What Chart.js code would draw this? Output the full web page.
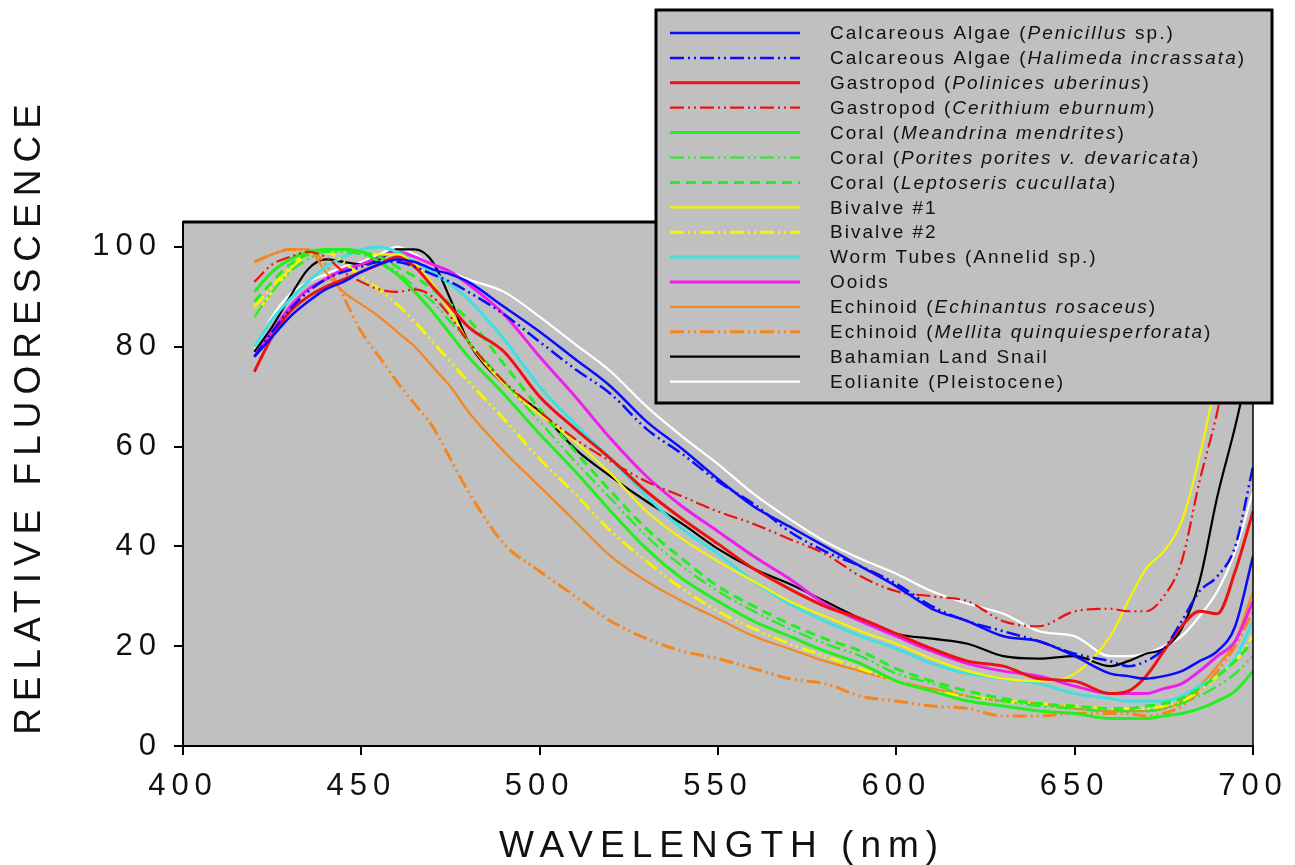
<!DOCTYPE html>
<html>
<head>
<meta charset="utf-8">
<script src="https://cdn.jsdelivr.net/npm/chart.js@4.4.0/dist/chart.umd.min.js"></script>
<style>
  html, body { margin: 0; padding: 0; background: #fff; }
  #wrap { width: 1295px; height: 865px; }
</style>
</head>
<body>
<div id="wrap"><canvas id="myChart" width="1295" height="865"></canvas></div>
<script>
// wavelength (nm) sampled along the spectra
const wavelengths = [420, 425, 430, 435, 440, 445, 450, 455, 460, 465, 470, 475, 480, 490, 500, 510, 520, 530, 540, 550, 560, 570, 580, 590, 600, 610, 620, 630, 640, 650, 660, 665, 670, 675, 680, 685, 690, 695, 700];

// legend names, *...* = italic
const seriesNames = [
  'Calcareous Algae (*Penicillus* sp.)',
  'Calcareous Algae (*Halimeda incrassata*)',
  'Gastropod (*Polinices uberinus*)',
  'Gastropod (*Cerithium eburnum*)',
  'Coral (*Meandrina mendrites*)',
  'Coral (*Porites porites v. devaricata*)',
  'Coral (*Leptoseris cucullata*)',
  'Bivalve #1',
  'Bivalve #2',
  'Worm Tubes (Annelid sp.)',
  'Ooids',
  'Echinoid (*Echinantus rosaceus*)',
  'Echinoid (*Mellita quinquiesperforata*)',
  'Bahamian Land Snail',
  'Eolianite (Pleistocene)'
];

// relative fluorescence values, one array per sample
const penicillus = [78, 82, 86, 89, 91.5, 93, 95, 96.5, 97.5, 97, 95.5, 94.5, 93, 88, 83, 77.5, 72, 65, 59.5, 53.5, 48, 44, 40, 36, 32, 27.5, 25, 22, 21, 18, 14.5, 14, 13.5, 14, 15, 17, 19, 24, 38];
const halimeda = [78, 83, 87.5, 91, 93.5, 95, 96, 97, 97, 96, 94.5, 93, 91, 86.5, 81, 75.5, 70.5, 63.5, 58.5, 53, 48.5, 43, 39, 36, 32.5, 28, 25, 23, 21, 18.5, 17, 16, 17, 19.5, 25, 31, 34, 40, 56];
const polinices = [75, 82, 87, 90, 92, 93.5, 95, 96.5, 98, 96, 92, 88, 84, 79, 70, 63.5, 57.5, 51, 45.5, 40.5, 35.5, 31.5, 28, 25.5, 22.5, 19.5, 17, 16, 13.5, 13, 10.5, 11, 14, 19, 24, 27, 26.5, 35, 47];
const cerithium = [93, 96.5, 98, 99, 98, 95, 93, 91.5, 91, 91.5, 90, 86, 81, 73, 67, 61.5, 57, 53, 50, 47, 44.5, 41.5, 38.5, 34, 31, 30, 29, 25, 24, 27, 27.5, 27, 27, 30, 37, 53, 67, 85, 100];
const meandrina = [91, 95, 97.5, 99, 99.5, 99.5, 99, 97, 94.5, 91, 87, 82.5, 78, 70.5, 62.5, 55, 47, 39.5, 33.5, 29, 25, 22, 19, 16.5, 13, 11, 9, 8, 7, 6.5, 5.5, 5.5, 5.5, 6, 6.5, 7.5, 9, 11, 15];
const porites = [86, 91, 95, 97.5, 99, 99, 98.5, 97, 95, 92, 89, 85, 81, 73, 65, 57, 49.5, 42, 36, 31, 27, 23.5, 20.5, 18, 14.5, 12.5, 10, 9, 8, 7.5, 7, 7, 7, 7.5, 8.5, 10, 12, 14.5, 18];
const leptoseris = [89, 93, 96.5, 98.5, 99.5, 99.5, 99, 98, 96, 94, 91.5, 88.5, 85.5, 76.5, 67.5, 59, 51, 43.5, 37.5, 32, 28, 24.5, 21.5, 19, 15.5, 13, 11, 9.5, 8.5, 8, 7.5, 7.5, 8, 8.5, 9.5, 11.5, 14, 17, 21];
const bivalve1 = [86, 91, 95.5, 98.5, 99.5, 99.5, 99, 98.5, 98.5, 96.5, 92.5, 87, 81, 72.5, 66.5, 61, 54.5, 47, 41.5, 37, 33, 29, 26, 23, 20.5, 17.5, 15, 13.5, 13, 14.5, 22, 29, 35.5, 39, 45, 58, 75, 95, 115];
const bivalve2 = [88, 92, 96, 98.5, 99, 97, 94, 91.5, 88.5, 85, 81, 77, 73, 65.5, 57.5, 50.5, 43, 37, 31.5, 27, 23.5, 20.5, 18, 15.5, 13, 11, 10, 9, 8.5, 8, 7.5, 7.5, 7.5, 8, 9, 11, 14, 17, 22];
const wormTubes = [80, 85.5, 89.5, 93, 96, 98, 99.5, 100, 99, 97, 95, 92.5, 89.5, 81.5, 72, 64.5, 57.5, 50, 43.5, 38.5, 33, 28.5, 25, 22, 19.5, 16.5, 14.5, 13.5, 12.5, 10.5, 9.5, 9, 9, 9, 10, 12, 14, 17.5, 25];
const ooids = [78, 83, 88, 91.5, 93.5, 95.5, 96.5, 98, 99, 98, 96.5, 95, 92.5, 86.5, 78, 70, 61.5, 54, 48, 43, 38, 33.5, 28.5, 25, 22, 19, 16.5, 15, 14, 12, 10.5, 10.5, 10.5, 11.5, 12.5, 15, 18, 21, 29];
const echinantus = [97, 98.5, 99.5, 99.5, 95, 91, 88.5, 86, 83, 80, 76, 72, 67, 59, 52, 45, 38, 33, 29, 25.5, 22, 19.5, 17, 15, 13, 11.5, 10, 9, 8.5, 7.5, 7, 7, 7, 7.5, 9, 12, 16, 21, 31];
const mellita = [97, 98.5, 99.5, 99.5, 96.5, 90, 83, 78, 73, 68.5, 64, 57.5, 51, 40.5, 35, 30, 25, 21.5, 19, 17.5, 15.5, 13.5, 12.5, 10, 9, 8, 7.5, 6, 6, 6.5, 6.5, 6.5, 6, 6.5, 8, 11, 15, 20, 27];
const landSnail = [79, 84, 90, 95.5, 97.5, 97, 96.5, 97.5, 99.5, 99.5, 97, 89.5, 81, 72.5, 67, 59.5, 54, 49, 44.5, 39.5, 35.5, 32.5, 29, 25.5, 22.5, 21.5, 20.5, 18, 17.5, 18, 16, 17, 18.5, 19.5, 23.5, 33, 50, 64, 80];
const eolianite = [79.5, 86, 90.5, 93, 94.5, 96, 97, 98.5, 100, 98.5, 96.5, 95, 93.5, 91, 86, 80.5, 75, 68, 62, 56.5, 50.5, 45.5, 41, 37.5, 34.5, 31, 28.5, 26.5, 23, 22, 18, 18, 18.5, 20, 22, 26, 31, 39, 51];

const seriesValues = [penicillus, halimeda, polinices, cerithium, meandrina, porites, leptoseris,
  bivalve1, bivalve2, wormTubes, ooids, echinantus, mellita, landSnail, eolianite];

const xTicks = [400, 450, 500, 550, 600, 650, 700];
const yTicks = [0, 20, 40, 60, 80, 100];

const BLUE = '#0a0aff', RED = '#ee1111', GREEN = '#22ee22', YELLOW = '#f5f500',
  CYAN = '#3fe0e0', MAGENTA = '#ee1fee', ORANGE = '#f5861f';
const dashDotDot = [14, 4, 2, 4, 2, 4];
const styles = [
  { color: BLUE, width: 2.5, dash: [] },
  { color: BLUE, width: 2.5, dash: dashDotDot },
  { color: RED, width: 3, dash: [] },
  { color: RED, width: 2.2, dash: dashDotDot },
  { color: GREEN, width: 3, dash: [] },
  { color: GREEN, width: 2.2, dash: dashDotDot },
  { color: GREEN, width: 3, dash: [10, 6] },
  { color: YELLOW, width: 2.2, dash: [] },
  { color: YELLOW, width: 3, dash: dashDotDot },
  { color: CYAN, width: 3, dash: [] },
  { color: MAGENTA, width: 3, dash: [] },
  { color: ORANGE, width: 2.2, dash: [] },
  { color: ORANGE, width: 3, dash: dashDotDot },
  { color: '#000000', width: 2.2, dash: [] },
  { color: '#ffffff', width: 2.2, dash: [] }
];

const FONT = "'Liberation Sans', Arial, sans-serif";

const datasets = seriesValues.map((vals, i) => ({
  label: seriesNames[i].replace(/\*/g, ''),
  data: vals.map((v, j) => ({ x: wavelengths[j], y: v })),
  borderColor: styles[i].color,
  borderWidth: styles[i].width,
  borderDash: styles[i].dash,
  pointRadius: 0,
  fill: false,
  cubicInterpolationMode: 'monotone'
}));

function drawSpaced(ctx, text, x, y, spacing) {
  ctx.letterSpacing = spacing + 'px';
  ctx.fillText(text, x, y);
}

const framePlugin = {
  id: 'frame',
  beforeDraw(chart) {
    const { ctx, chartArea: a } = chart;
    ctx.save();
    ctx.fillStyle = '#ffffff';
    ctx.fillRect(0, 0, chart.width, chart.height);
    ctx.fillStyle = '#c0c0c0';
    ctx.fillRect(a.left, a.top, a.right - a.left, a.bottom - a.top);
    ctx.restore();
    // wide letter spacing for tick labels
    ctx.letterSpacing = '6px';
  },
  afterDraw(chart) {
    const { ctx, chartArea: a } = chart;
    ctx.save();
    ctx.letterSpacing = '0px';
    // frame top and right
    ctx.strokeStyle = '#000';
    ctx.lineWidth = 3;
    ctx.beginPath();
    ctx.moveTo(a.left, a.top);
    ctx.lineTo(a.right, a.top);
    ctx.stroke();
    ctx.lineWidth = 1.5;
    ctx.beginPath();
    ctx.moveTo(a.right, a.top);
    ctx.lineTo(a.right, a.bottom);
    ctx.stroke();

    // axis titles
    ctx.fillStyle = '#111';
    ctx.textAlign = 'center';
    ctx.textBaseline = 'middle';
    ctx.font = '37px ' + FONT;
    drawSpaced(ctx, 'WAVELENGTH (nm)', 722, 847, 7);
    ctx.save();
    ctx.translate(30, 416);
    ctx.rotate(-Math.PI / 2);
    drawSpaced(ctx, 'RELATIVE FLUORESCENCE', 0, 0, 7);
    ctx.restore();

    // legend box
    const lx = 656, ly = 10, lw = 616, lh = 393;
    ctx.fillStyle = '#c0c0c0';
    ctx.fillRect(lx, ly, lw, lh);
    ctx.strokeStyle = '#000';
    ctx.lineWidth = 3;
    ctx.strokeRect(lx, ly, lw, lh);

    ctx.textAlign = 'left';
    chart.data.datasets.forEach((ds, i) => {
      const y = 33 + i * 24.9;
      ctx.save();
      ctx.strokeStyle = ds.borderColor;
      ctx.lineWidth = ds.borderWidth;
      ctx.setLineDash(ds.borderDash);
      ctx.beginPath();
      ctx.moveTo(670, y);
      ctx.lineTo(800, y);
      ctx.stroke();
      ctx.restore();

      let x = 830;
      ctx.fillStyle = '#111';
      ctx.letterSpacing = '2px';
      seriesNames[i].split('*').forEach((part, k) => {
        ctx.font = (k % 2 ? 'italic ' : '') + '19px ' + FONT;
        ctx.fillText(part, x, y + 1);
        x += ctx.measureText(part).width;
      });
    });
    ctx.restore();
  }
};

const chartConfig = {
  type: 'line',
  data: { datasets },
  options: {
    responsive: false,
    animation: false,
    devicePixelRatio: 1,
    layout: { padding: { top: 222, right: 42, left: 0, bottom: 0 } },
    plugins: { legend: { display: false }, tooltip: { enabled: false } },
    scales: {
      x: {
        type: 'linear',
        min: 400,
        max: 700,
        afterBuildTicks: (scale) => { scale.ticks = xTicks.map(v => ({ value: v })); },
        afterFit: (scale) => { scale.height = 119; },
        ticks: { color: '#111', font: { family: FONT, size: 31 }, padding: 13, maxRotation: 0 },
        grid: { display: true, drawOnChartArea: false, drawTicks: true, tickLength: 9, color: '#000', lineWidth: 2 },
        border: { display: true, color: '#000', width: 2 }
      },
      y: {
        min: 0,
        max: 105,
        afterBuildTicks: (scale) => { scale.ticks = yTicks.map(v => ({ value: v })); },
        afterFit: (scale) => { scale.width = 183; },
        ticks: { color: '#111', font: { family: FONT, size: 31 }, padding: 12 },
        grid: { display: true, drawOnChartArea: false, drawTicks: true, tickLength: 9, color: '#000', lineWidth: 2 },
        border: { display: true, color: '#000', width: 2 }
      }
    }
  },
  plugins: [framePlugin]
};

const chartCanvas = document.getElementById('myChart');
const myChart = new Chart(chartCanvas.getContext('2d'), chartConfig);
</script>
</body>
</html>
